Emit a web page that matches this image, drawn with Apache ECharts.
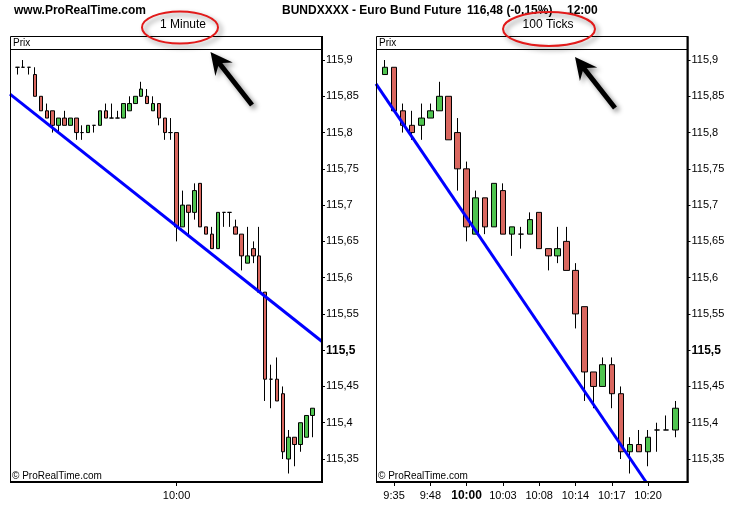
<!DOCTYPE html>
<html><head><meta charset="utf-8">
<script src="https://cdn.jsdelivr.net/npm/echarts@6/dist/echarts.min.js"></script>
<style>html,body{margin:0;padding:0;background:#fff}#c{width:737px;height:508px}</style>
</head><body><div id="c"></div>
<script>
// [open, close, low, high]
const leftCandles = [
[115.89,115.89,115.88,115.89],[115.89,115.89,115.89,115.90],[115.89,115.89,115.88,115.89],
[115.88,115.85,115.85,115.89],[115.85,115.83,115.83,115.85],[115.83,115.82,115.82,115.84],
[115.83,115.81,115.80,115.83],[115.81,115.82,115.80,115.82],[115.82,115.81,115.81,115.83],
[115.81,115.82,115.81,115.82],[115.82,115.80,115.79,115.82],[115.80,115.80,115.79,115.81],
[115.80,115.81,115.80,115.81],[115.81,115.81,115.80,115.81],[115.81,115.83,115.81,115.83],
[115.83,115.82,115.82,115.84],[115.82,115.82,115.82,115.84],[115.82,115.82,115.82,115.83],
[115.82,115.84,115.82,115.84],[115.83,115.84,115.83,115.85],[115.84,115.85,115.84,115.85],
[115.85,115.86,115.85,115.87],[115.85,115.84,115.84,115.86],[115.83,115.84,115.83,115.85],
[115.84,115.82,115.81,115.84],[115.82,115.80,115.79,115.82],[115.80,115.80,115.79,115.82],
[115.80,115.67,115.65,115.80],[115.67,115.70,115.67,115.72],[115.70,115.69,115.66,115.70],
[115.69,115.72,115.68,115.73],[115.73,115.67,115.67,115.73],[115.67,115.66,115.66,115.67],
[115.66,115.64,115.64,115.67],[115.64,115.69,115.64,115.69],[115.69,115.69,115.67,115.69],
[115.69,115.69,115.67,115.69],[115.67,115.66,115.66,115.68],[115.66,115.63,115.61,115.66],
[115.62,115.63,115.62,115.67],[115.64,115.63,115.62,115.65],[115.63,115.58,115.58,115.67],
[115.58,115.46,115.43,115.58],[115.46,115.46,115.42,115.48],[115.46,115.43,115.43,115.49],
[115.44,115.36,115.35,115.45],[115.35,115.38,115.33,115.39],[115.38,115.37,115.34,115.38],
[115.37,115.40,115.36,115.40],[115.38,115.41,115.38,115.41],[115.41,115.42,115.38,115.42]
];
const rightCandles = [
[115.88,115.89,115.88,115.90],[115.89,115.83,115.83,115.89],[115.83,115.81,115.80,115.84],
[115.81,115.80,115.79,115.83],[115.81,115.82,115.79,115.84],[115.82,115.83,115.82,115.84],
[115.83,115.85,115.83,115.87],[115.85,115.79,115.79,115.85],[115.80,115.75,115.72,115.82],
[115.75,115.67,115.65,115.76],[115.66,115.71,115.66,115.72],[115.71,115.67,115.66,115.71],
[115.67,115.73,115.67,115.73],[115.72,115.66,115.66,115.73],[115.66,115.67,115.63,115.67],
[115.66,115.66,115.64,115.67],[115.66,115.68,115.66,115.69],[115.69,115.64,115.64,115.69],
[115.64,115.63,115.61,115.64],[115.63,115.64,115.62,115.67],[115.65,115.61,115.61,115.67],
[115.61,115.55,115.53,115.62],[115.56,115.47,115.43,115.56],[115.47,115.45,115.42,115.47],
[115.45,115.48,115.45,115.49],[115.48,115.44,115.42,115.49],[115.44,115.36,115.35,115.45],
[115.36,115.37,115.33,115.38],[115.37,115.36,115.36,115.39],[115.36,115.38,115.34,115.39],
[115.39,115.39,115.36,115.40],[115.39,115.39,115.39,115.41],[115.39,115.42,115.38,115.43]
];
const leftTickIdx = [27];
const leftTickLabels = ['10:00'];
const rightTickIdx = [1,5,9,13,17,21,25,29];
const rightTickLabels = ['9:35','9:48','10:00','10:03','10:08','10:14','10:17','10:20'];
const rightBoldTime = '10:00';
const yTicks = [115.35,115.4,115.45,115.5,115.55,115.6,115.65,115.7,115.75,115.8,115.85,115.9];
const boldPrice = 115.5;
const trendLeft = [[-1.24,115.853],[51.65,115.512]];
const trendRight = [[-0.99,115.867],[28.8,115.318]];

const FONT = "'Liberation Sans', Arial, sans-serif";
const Y_MIN = 115.3183, Y_MAX = 115.9152;

function toSeries(c){ return c.map((d,i)=>[i,d[0],d[1],d[2],d[3]]); }

function xAxisOf(gi, min, max, idx, labels, bold){
  return {
    type:'value', gridIndex:gi, min:min, max:max,
    splitLine:{show:false}, axisLine:{show:false, onZero:false},
    axisTick:{show:true, length:4, customValues:idx, lineStyle:{color:'#000', width:1}},
    axisLabel:{show:true, customValues:idx, margin:8, color:'#000', fontFamily:FONT, fontSize:11, fontWeight:'normal',
      formatter:function(v){ const k = idx.indexOf(v); const s = k>=0?labels[k]:''; return (bold && s===bold)?'{b|'+s+'}':s; },
      rich:{b:{fontWeight:'bold', fontSize:12, fontFamily:FONT, color:'#000'}}}
  };
}
function yAxisOf(gi){
  return {
    type:'value', gridIndex:gi, position:'right', min:Y_MIN, max:Y_MAX, scale:true,
    splitLine:{show:false}, axisLine:{show:false, onZero:false},
    axisTick:{show:true, inside:false, length:3, customValues:yTicks, lineStyle:{color:'#000'}},
    axisLabel:{show:true, customValues:yTicks, margin:4, color:'#000', fontFamily:FONT, fontSize:11,
      formatter:function(v){ const s = String(v).replace('.', ','); return Math.abs(v-boldPrice)<1e-9?'{b|'+s+'}':s; },
      rich:{b:{fontWeight:'bold', fontSize:12, fontFamily:FONT, color:'#000'}}}
  };
}
function candle(gi, data, w){
  return {type:'candlestick', xAxisIndex:gi, yAxisIndex:gi, layout:'horizontal',
    encode:{x:0, y:[1,2,3,4]}, data:toSeries(data), barWidth:w,
    itemStyle:{color:'#4fc44f', color0:'#d9675f', borderColor:'#000', borderColor0:'#000', borderColorDoji:'#000', borderWidth:1},
    silent:true};
}
function trend(gi, pts){
  return {type:'line', xAxisIndex:gi, yAxisIndex:gi, data:pts, symbol:'none', silent:true, z:5,
    lineStyle:{color:'#0000ff', width:3}};
}
function arrow(tip, tail){
  const dx=tip[0]-tail[0], dy=tip[1]-tail[1], L=Math.hypot(dx,dy);
  const ux=dx/L, uy=dy/L, nx=-uy, ny=ux;
  const hl=22, hw=11, sw=2.5;
  const bx=tip[0]-ux*hl, by=tip[1]-uy*hl;
  const mx=tip[0]-ux*hl*0.72, my=tip[1]-uy*hl*0.72;
  return [tip,[bx+nx*hw,by+ny*hw],[mx+nx*sw,my+ny*sw],[tail[0]+nx*sw,tail[1]+ny*sw],
    [tail[0]-nx*sw,tail[1]-ny*sw],[mx-nx*sw,my-ny*sw],[bx-nx*hw,by-ny*hw]];
}
function panelFrame(x1, x2){
  return [
    {type:'rect', shape:{x:x1+0.5, y:36.5, width:x2-x1, height:446}, style:{fill:null, stroke:'#000', lineWidth:1}},
    {type:'line', shape:{x1:x1, y1:49.5, x2:x2, y2:49.5}, style:{stroke:'#000', lineWidth:1}},
    {type:'line', shape:{x1:x2, y1:36, x2:x2, y2:483}, style:{stroke:'#000', lineWidth:2}},
    {type:'line', shape:{x1:x1, y1:482, x2:x2+1, y2:482}, style:{stroke:'#000', lineWidth:2}},
    {type:'text', style:{text:'Prix', x:x1+3, y:43, font:'10px '+FONT, fill:'#000', textAlign:'left', textVerticalAlign:'middle'}},
    {type:'text', style:{text:'© ProRealTime.com', x:x1+2, y:476, font:'10px '+FONT, fill:'#000', textAlign:'left', textVerticalAlign:'middle'}}
  ];
}
const shadow = {shadowBlur:5, shadowColor:'rgba(0,0,0,0.45)', shadowOffsetX:3, shadowOffsetY:3};
const gfx = [].concat(
  panelFrame(10, 322), panelFrame(376, 687.5),
  [
    {type:'text', style:{text:'www.ProRealTime.com', x:14, y:10.5, font:'bold 12px '+FONT, fill:'#000', textAlign:'left', textVerticalAlign:'middle'}},
    {type:'text', style:{text:'BUNDXXXX - Euro Bund Future', x:282, y:10.5, font:'bold 12px '+FONT, fill:'#000', textAlign:'left', textVerticalAlign:'middle'}},
    {type:'text', style:{text:'116,48 (-0,15%)', x:467, y:10.5, font:'bold 12px '+FONT, fill:'#000', textAlign:'left', textVerticalAlign:'middle'}},
    {type:'text', style:{text:'12:00', x:567, y:10.5, font:'bold 12px '+FONT, fill:'#000', textAlign:'left', textVerticalAlign:'middle'}},
    {type:'text', style:{text:'1 Minute', x:183, y:25, font:'12px '+FONT, fill:'#000', textAlign:'center', textVerticalAlign:'middle'}},
    {type:'text', style:{text:'100 Ticks', x:548, y:25, font:'12px '+FONT, fill:'#000', textAlign:'center', textVerticalAlign:'middle'}},
    {type:'ellipse', z:110, shape:{cx:180, cy:27.5, rx:38, ry:16}, style:Object.assign({fill:null, stroke:'#e21a1a', lineWidth:2}, shadow)},
    {type:'ellipse', z:110, shape:{cx:549, cy:29, rx:46, ry:17}, style:Object.assign({fill:null, stroke:'#e21a1a', lineWidth:2}, shadow)},
    {type:'polygon', z:110, shape:{points:arrow([210.5,52],[252,105])}, style:Object.assign({fill:'#000'}, shadow)},
    {type:'polygon', z:110, shape:{points:arrow([575,57],[615,108])}, style:Object.assign({fill:'#000'}, shadow)}
  ]
).map(e=>Object.assign({silent:true, z:e.z||100}, e));

const chart = echarts.init(document.getElementById('c'), null, {renderer:'canvas'});
chart.setOption({
  animation:false,
  backgroundColor:'#fff',
  grid:[
    {left:10, right:415, top:49, bottom:26},
    {left:376, right:49.5, top:49, bottom:26}
  ],
  xAxis:[
    xAxisOf(0, -1.24, 51.65, leftTickIdx, leftTickLabels, null),
    xAxisOf(1, -0.99, 33.35, rightTickIdx, rightTickLabels, rightBoldTime)
  ],
  yAxis:[yAxisOf(0), yAxisOf(1)],
  series:[
    candle(0, leftCandles, 4), trend(0, trendLeft),
    candle(1, rightCandles, 6), trend(1, trendRight)
  ],
  graphic:{elements:gfx}
});
</script></body></html>
